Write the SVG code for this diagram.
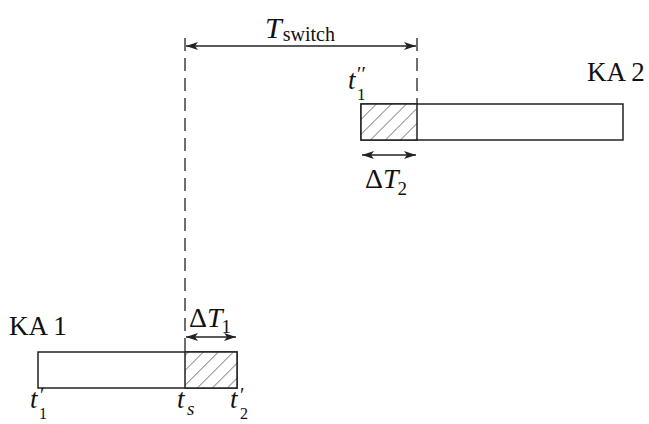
<svg xmlns="http://www.w3.org/2000/svg" width="649" height="424" viewBox="0 0 649 424">
<style>
.box{fill:#fff;stroke:#222;stroke-width:1.5}
.hatch{fill:url(#h);stroke:#222;stroke-width:1.5}
.dash{stroke:#222;stroke-width:1.3;stroke-dasharray:13 7;fill:none}
.arr{stroke:#222;stroke-width:1.3;fill:none;marker-start:url(#a);marker-end:url(#a)}
text{font-family:'Liberation Serif','DejaVu Serif',serif;fill:#111}
.i{font-style:italic}
</style>
<defs>
<pattern id="h" patternUnits="userSpaceOnUse" width="10.6" height="10.6" patternTransform="rotate(45)">
<rect width="10.6" height="10.6" fill="#fff"/>
<line x1="0" y1="0" x2="0" y2="10.6" stroke="#222" stroke-width="1"/>
</pattern>
<marker id="a" viewBox="0 0 12 8" refX="12" refY="4" markerWidth="12" markerHeight="8" markerUnits="userSpaceOnUse" orient="auto-start-reverse">
<path d="M0,0 L12,4 L0,8 L3,4 Z" fill="#222"/>
</marker>
</defs>
<g id="connectors">
<line class="dash" x1="185" y1="38" x2="185" y2="352"/>
<line class="dash" x1="417" y1="38" x2="417" y2="104"/>
<line class="arr" x1="186" y1="46" x2="416" y2="46"/>
<line class="arr" x1="362" y1="155" x2="416" y2="155"/>
<line class="arr" x1="186" y1="337" x2="236" y2="337"/>
</g>
<g id="ka2">
<rect class="box" x="361" y="104" width="262" height="36"/>
<rect class="hatch" x="361" y="104" width="56" height="36"/>
<text x="587" y="81" font-size="27">KA 2</text>
</g>
<g id="ka1">
<rect class="box" x="38" y="352" width="199" height="36"/>
<rect class="hatch" x="185" y="352" width="52" height="36"/>
<text x="9" y="335" font-size="27">KA 1</text>
</g>
<g id="labels">
<text x="265" y="38" font-size="30"><tspan class="i">T</tspan><tspan font-size="20" dx="1" dy="3">switch</tspan></text>
<text x="365" y="188" font-size="28">Δ<tspan class="i">T</tspan><tspan font-size="19" dx="-1" dy="7">2</tspan></text>
<text x="189" y="327" font-size="28">Δ<tspan class="i">T</tspan><tspan font-size="19" dx="-1" dy="6">1</tspan></text>
<text x="348" y="89" font-size="27" class="i">t</text>
<text x="357" y="81" font-size="20">′′</text>
<text x="357" y="100" font-size="17">1</text>
<text x="30" y="408" font-size="27" class="i">t</text>
<text x="40" y="402" font-size="20">′</text>
<text x="39" y="419" font-size="16">1</text>
<text x="177" y="408" font-size="27" class="i">t</text>
<text x="187" y="415" font-size="19" class="i">s</text>
<text x="230" y="408" font-size="27" class="i">t</text>
<text x="240" y="402" font-size="20">′</text>
<text x="240" y="419" font-size="16">2</text>
</g>
</svg>
